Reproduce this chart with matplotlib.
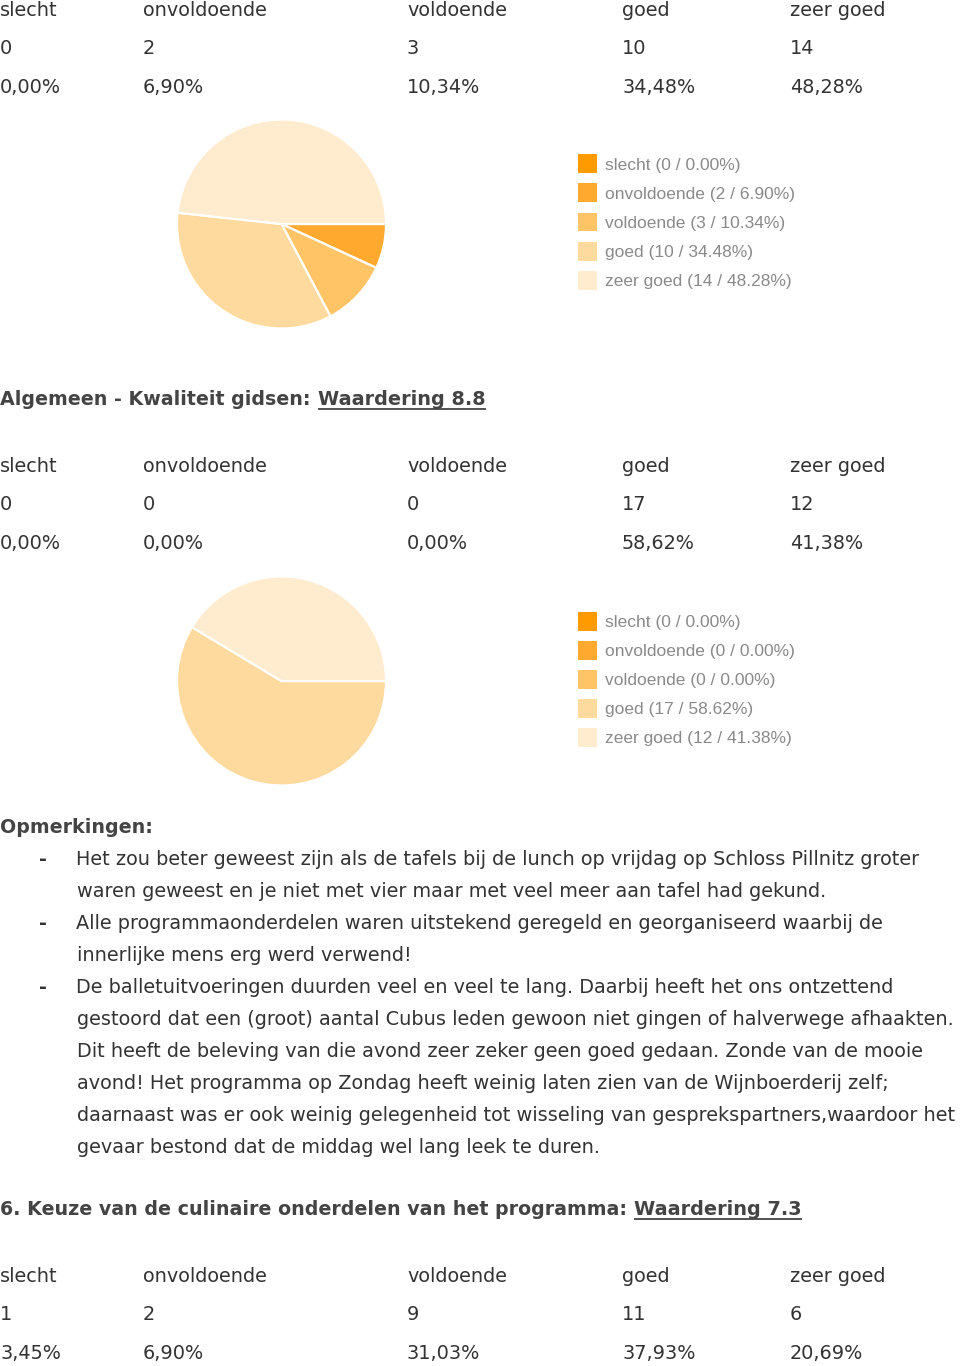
import matplotlib
matplotlib.use('Agg')
import matplotlib.pyplot as plt
from matplotlib.patches import Patch

# ---------------- data ----------------
categories = ['slecht', 'onvoldoende', 'voldoende', 'goed', 'zeer goed']
counts_gidsen_prev = [0, 2, 3, 10, 14]
counts_gidsen = [0, 0, 0, 17, 12]
counts_culinair = [1, 2, 9, 11, 6]

heading_gidsen = 'Algemeen - Kwaliteit gidsen: '
rating_gidsen = 'Waardering 8.8'
heading_culinair = '6. Keuze van de culinaire onderdelen van het programma: '
rating_culinair = 'Waardering 7.3'

remarks_title = 'Opmerkingen:'
remarks = [
    ['Het zou beter geweest zijn als de tafels bij de lunch op vrijdag op Schloss Pillnitz groter',
     'waren geweest en je niet met vier maar met veel meer aan tafel had gekund.'],
    ['Alle programmaonderdelen waren uitstekend geregeld en georganiseerd waarbij de',
     'innerlijke mens erg werd verwend!'],
    ['De balletuitvoeringen duurden veel en veel te lang. Daarbij heeft het ons ontzettend',
     'gestoord dat een (groot) aantal Cubus leden gewoon niet gingen of halverwege afhaakten.',
     'Dit heeft de beleving van die avond zeer zeker geen goed gedaan. Zonde van de mooie',
     'avond! Het programma op Zondag heeft weinig laten zien van de Wijnboerderij zelf;',
     'daarnaast was er ook weinig gelegenheid tot wisseling van gesprekspartners,waardoor het',
     'gevaar bestond dat de middag wel lang leek te duren.'],
]

colors = ['#FF9A00', '#FFA92E', '#FFC466', '#FFDA9E', '#FFEBCD']

# ---------------- layout ----------------
W, H = 960, 1366
fig = plt.figure(figsize=(W / 100, H / 100), dpi=100)
fig.patch.set_facecolor('white')
ax = fig.add_axes([0, 0, 1, 1])
ax.set_xlim(0, W)
ax.set_ylim(H, 0)
ax.axis('off')

col_x = [0, 143, 407, 622, 790]
TXT = '#333333'
HEAD = '#444444'
FS = 13.9
BFS = 13.7
FONT = 'DejaVu Sans'


def pct_nl(c, total):
    return f'{100 * c / total:.2f}%'.replace('.', ',')


def table(counts, y0):
    total = sum(counts)
    for x, cat, c in zip(col_x, categories, counts):
        ax.text(x, y0, cat, fontsize=FS, color=TXT, family=FONT, va='baseline')
        ax.text(x, y0 + 38, str(c), fontsize=FS, color=TXT, family=FONT, va='baseline')
        ax.text(x, y0 + 77, pct_nl(c, total), fontsize=FS, color=TXT, family=FONT, va='baseline')


LFS = 12.5


def pie_block(counts, cy, legend_cy):
    cx, r = 281.5, 104.5
    pad = 1.03
    rr = r * pad
    pax = fig.add_axes([(cx - rr) / W, 1 - (cy + rr) / H, 2 * rr / W, 2 * rr / H])
    pax.pie(counts, colors=colors, startangle=0, counterclock=False,
            wedgeprops=dict(edgecolor='white', linewidth=1.6))
    pax.set_xlim(-pad, pad)
    pax.set_ylim(-pad, pad)
    pax.set_aspect('equal')
    pax.axis('off')
    total = sum(counts)
    labels = [f'{cat} ({c} / {100 * c / total:.2f}%)' for cat, c in zip(categories, counts)]
    handles = [Patch(facecolor=col, edgecolor='none') for col in colors]
    fig.legend(handles, labels, loc='center left',
               bbox_to_anchor=(578 / W, 1 - legend_cy / H),
               frameon=False, prop={'family': 'Liberation Sans', 'size': LFS},
               labelcolor='#8a8a8a', handlelength=1.094, handleheight=1.306,
               labelspacing=0.58, handletextpad=0.46, borderpad=0, borderaxespad=0)


def heading(prefix, rating, y, rating_x):
    ax.text(0, y, prefix, fontsize=BFS, color=HEAD, family=FONT, weight='bold', va='baseline')
    t2 = ax.text(rating_x, y, rating, fontsize=FS, color=HEAD, family=FONT, weight='bold',
                 va='baseline')
    fig.canvas.draw()
    bb = t2.get_window_extent()
    ax.plot([rating_x, rating_x + bb.width], [y + 4, y + 4], color=HEAD, lw=1.3,
            solid_capstyle='butt')


# block 1 (partially visible previous question)
table(counts_gidsen_prev, 16)
pie_block(counts_gidsen_prev, 224, 222)

# heading gidsen
heading(heading_gidsen, rating_gidsen, 405, 318)
table(counts_gidsen, 472)
pie_block(counts_gidsen, 681, 679.5)

# remarks
ax.text(0, 833, remarks_title, fontsize=BFS, color=HEAD, family=FONT, weight='bold', va='baseline')
yy = 865
for item in remarks:
    ax.text(39, yy, '-', fontsize=FS, color=TXT, family=FONT, weight='bold', va='baseline')
    for i, line in enumerate(item):
        ax.text(76 if i == 0 else 77, yy, line, fontsize=FS, color=TXT, family=FONT, va='baseline')
        yy += 32

heading(heading_culinair, rating_culinair, 1215, 634)
table(counts_culinair, 1282)

fig.savefig('out.png', dpi=100, facecolor='white')
